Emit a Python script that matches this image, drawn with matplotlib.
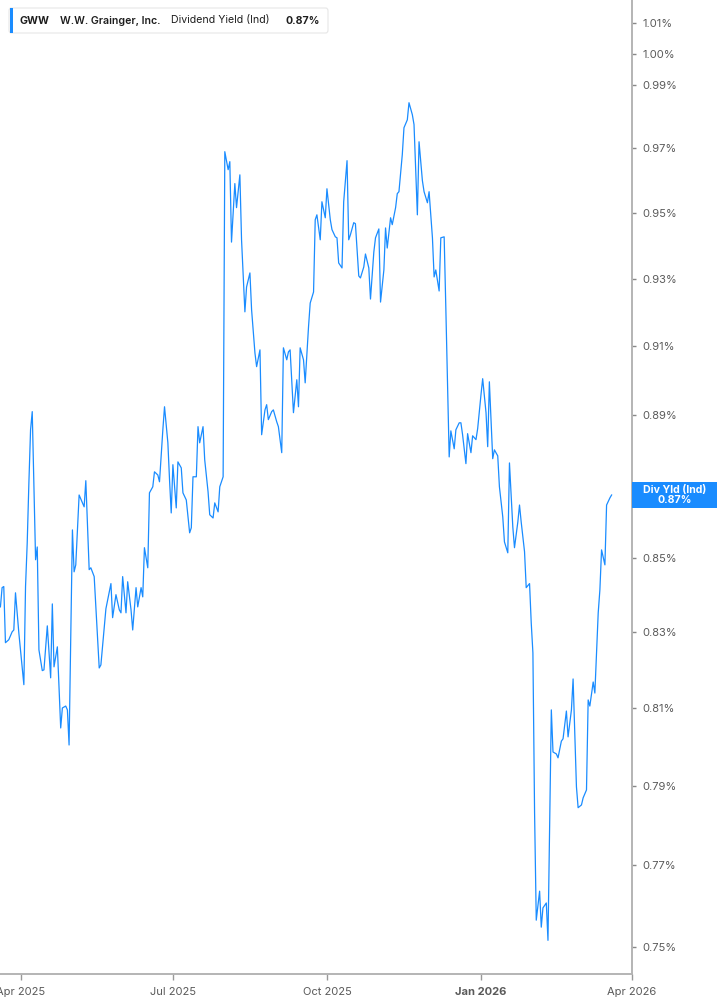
import matplotlib
matplotlib.use('Agg')
import matplotlib.pyplot as plt
import matplotlib.dates as mdates
import matplotlib.ticker as mticker
from matplotlib.patches import Rectangle, FancyBboxPatch
import pandas as pd

plt.rcParams['font.family'] = ['Inter', 'DejaVu Sans']

# data (dividend yield in %)
start_date = '2025-03-20'
day_offsets = [
    0, 1, 2, 3, 5, 7, 8, 9, 11, 12,
    14, 15, 16, 17, 18, 19, 21, 22, 23, 25,
    26, 28, 30, 31, 32, 34, 36, 37, 39, 40,
    41, 43, 44, 45, 47, 50, 51, 53, 54, 56,
    59, 60, 63, 66, 67, 69, 71, 72, 73, 75,
    76, 78, 79, 81, 82, 84, 85, 86, 88, 89,
    91, 92, 94, 95, 97, 98, 100, 101, 102, 103,
    105, 106, 108, 109, 111, 113, 114, 115, 117, 118,
    119, 121, 122, 124, 125, 127, 128, 130, 131, 133,
    134, 136, 137, 138, 140, 141, 143, 144, 146, 147,
    149, 150, 152, 153, 155, 156, 158, 159, 160, 162,
    163, 165, 166, 168, 169, 171, 172, 173, 175, 177,
    178, 179, 181, 182, 184, 185, 187, 188, 189, 191,
    192, 194, 195, 197, 198, 200, 201, 202, 204, 205,
    207, 208, 209, 211, 212, 214, 215, 217, 218, 220,
    221, 223, 224, 226, 227, 229, 230, 231, 233, 234,
    236, 237, 238, 240, 241, 243, 244, 246, 247, 249,
    250, 252, 253, 255, 256, 258, 259, 260, 262, 263,
    265, 266, 268, 269, 271, 272, 274, 275, 276, 278,
    279, 281, 282, 284, 285, 287, 288, 290, 291, 292,
    294, 295, 297, 298, 300, 301, 303, 304, 306, 307,
    309, 310, 311, 313, 314, 316, 317, 318, 319, 320,
    322, 323, 324, 326, 327, 329, 330, 332, 333, 335,
    336, 338, 339, 341, 342, 344, 345, 347, 348, 350,
    351, 352, 354, 355, 357, 358, 359, 361, 362, 364,
    365,
]
div_yield = [
    0.8368, 0.8420, 0.8423, 0.8272, 0.8280, 0.8301, 0.8306, 0.8406, 0.8298, 0.8253,
    0.8161, 0.8423, 0.8542, 0.8709, 0.8859, 0.8911, 0.8496, 0.8531, 0.8253, 0.8198,
    0.8200, 0.8317, 0.8179, 0.8376, 0.8208, 0.8261, 0.8048, 0.8100, 0.8105, 0.8095,
    0.8004, 0.8578, 0.8463, 0.8482, 0.8675, 0.8642, 0.8715, 0.8469, 0.8474, 0.8450,
    0.8205, 0.8213, 0.8363, 0.8431, 0.8339, 0.8401, 0.8360, 0.8352, 0.8450, 0.8352,
    0.8436, 0.8360, 0.8306, 0.8420, 0.8368, 0.8420, 0.8395, 0.8529, 0.8474, 0.8681,
    0.8698, 0.8740, 0.8731, 0.8712, 0.8859, 0.8925, 0.8822, 0.8717, 0.8625, 0.8760,
    0.8639, 0.8768, 0.8751, 0.8681, 0.8661, 0.8570, 0.8584, 0.8726, 0.8726, 0.8868,
    0.8822, 0.8868, 0.8774, 0.8684, 0.8620, 0.8611, 0.8653, 0.8628, 0.8698, 0.8726,
    0.9689, 0.9633, 0.9658, 0.9411, 0.9590, 0.9516, 0.9617, 0.9418, 0.9202, 0.9276,
    0.9318, 0.9208, 0.9081, 0.9041, 0.9090, 0.8845, 0.8916, 0.8931, 0.8888, 0.8911,
    0.8916, 0.8882, 0.8868, 0.8794, 0.9096, 0.9061, 0.9084, 0.9090, 0.8908, 0.9003,
    0.8925, 0.9096, 0.9061, 0.8994, 0.9158, 0.9228, 0.9261, 0.9479, 0.9494, 0.9418,
    0.9534, 0.9485, 0.9574, 0.9479, 0.9449, 0.9427, 0.9424, 0.9348, 0.9333, 0.9534,
    0.9661, 0.9418, 0.9433, 0.9470, 0.9467, 0.9309, 0.9303, 0.9336, 0.9375, 0.9333,
    0.9240, 0.9381, 0.9424, 0.9451, 0.9231, 0.9327, 0.9454, 0.9393, 0.9485, 0.9464,
    0.9516, 0.9559, 0.9565, 0.9680, 0.9764, 0.9789, 0.9843, 0.9805, 0.9774, 0.9494,
    0.9720, 0.9599, 0.9565, 0.9531, 0.9565, 0.9424, 0.9306, 0.9327, 0.9264, 0.9424,
    0.9427, 0.9213, 0.8782, 0.8856, 0.8805, 0.8859, 0.8879, 0.8879, 0.8845, 0.8763,
    0.8848, 0.8794, 0.8842, 0.8831, 0.8862, 0.8960, 0.9006, 0.8908, 0.8811, 0.8997,
    0.8777, 0.8802, 0.8785, 0.8698, 0.8614, 0.8545, 0.8515, 0.8765, 0.8586, 0.8529,
    0.8600, 0.8647, 0.8600, 0.8518, 0.8420, 0.8431, 0.8325, 0.8245, 0.7831, 0.7565,
    0.7636, 0.7548, 0.7595, 0.7607, 0.7516, 0.8095, 0.7986, 0.7981, 0.7971, 0.8014,
    0.8020, 0.8092, 0.8025, 0.8095, 0.8176, 0.7897, 0.7844, 0.7851, 0.7869, 0.7889,
    0.8121, 0.8105, 0.8168, 0.8139, 0.8352, 0.8414, 0.8523, 0.8482, 0.8647, 0.8667,
    0.8675,
]

ytick_values = [0.75, 0.77, 0.79, 0.81, 0.83, 0.85, 0.89, 0.91, 0.93, 0.95,
                0.97, 0.99, 1.00, 1.01]
xtick_dates = ['2025-04-01', '2025-07-01', '2025-10-01', '2026-01-01', '2026-04-01']
xtick_labels = ['Apr 2025', 'Jul 2025', 'Oct 2025', 'Jan 2026', 'Apr 2026']

ticker_name = 'GWW'
company = 'W.W. Grainger, Inc.'
metric = 'Dividend Yield (Ind)'
last_label = 'Div Yld (Ind)'

blue = '#1a8cff'
W, H = 717, 1005

dates = pd.Timestamp(start_date) + pd.to_timedelta(day_offsets, unit='D')

fig = plt.figure(figsize=(W / 100, H / 100), dpi=100)
ax = fig.add_axes([0, 31 / H, 631.7 / W, 974 / H])
ax.plot(dates, div_yield, color=blue, lw=0.9)

ax.set_yscale('log')
ax.set_ylim(0.7435, 1.0174)
ax.set_xlim(pd.Timestamp('2025-03-19 18:00'), pd.Timestamp('2026-04-01'))

ax.yaxis.tick_right()
ax.yaxis.set_major_locator(mticker.FixedLocator(ytick_values))
ax.yaxis.set_minor_locator(mticker.NullLocator())
ax.yaxis.set_major_formatter(mticker.FuncFormatter(lambda v, p: f'{v:.2f}%'))
ax.yaxis.set_minor_formatter(mticker.NullFormatter())

ax.set_xticks(pd.to_datetime(xtick_dates))
ax.set_xticklabels(xtick_labels)
for lbl in ax.get_xticklabels():
    if lbl.get_text() == 'Jan 2026':
        lbl.set_fontweight('bold')
        lbl.set_color('#444444')
        lbl.set_fontsize(9)

for s in ['left', 'top']:
    ax.spines[s].set_visible(False)
for s in ['right', 'bottom']:
    ax.spines[s].set_color('#b4b4b4')
    ax.spines[s].set_linewidth(1.4)

ax.tick_params(axis='y', length=3, width=1, color='#888888', labelsize=8,
               labelcolor='#5a5a5a', pad=5)
ax.tick_params(axis='x', length=4, width=1, color='#999999', labelsize=8,
               labelcolor='#5a5a5a', pad=5)

# header box
fig.patches.append(FancyBboxPatch((9 / W, 1 - 33 / H), 319 / W, 25 / H,
                                  boxstyle='round,pad=0,rounding_size=0.003',
                                  transform=fig.transFigure, facecolor='white',
                                  edgecolor='#e6e6e6', lw=0.8))
fig.patches.append(Rectangle((9.5 / W, 1 - 33 / H), 3 / W, 25 / H,
                             transform=fig.transFigure, facecolor=blue,
                             edgecolor='none'))
ty = 1 - 20.5 / H
fig.text(20 / W, ty, ticker_name, fontsize=7.6, fontweight='bold',
         color='#1e1e1e', va='center')
fig.text(60 / W, ty, company, fontsize=7.6, fontweight='semibold',
         color='#1e1e1e', va='center')
fig.text(171 / W, ty, metric, fontsize=7.6, color='#1e1e1e', va='center')
fig.text(286 / W, ty, f'{div_yield[-1]:.2f}%', fontsize=7.6,
         fontweight='bold', color='#1e1e1e', va='center')

# last value tag
y_disp = ax.transData.transform((mdates.date2num(dates[-1]), div_yield[-1]))[1]
yf = y_disp / fig.bbox.height
box_h = 26 / H
fig.patches.append(Rectangle((632 / W, yf - box_h / 2), 85 / W, box_h,
                             transform=fig.transFigure, facecolor=blue,
                             edgecolor='none'))
fig.text((632 + 717) / 2 / W, yf, f'{last_label}\n{div_yield[-1]:.2f}%',
         ha='center', va='center', fontsize=7.6, fontweight='bold',
         color='white', linespacing=1.0)

fig.savefig('out.png', dpi=100)
